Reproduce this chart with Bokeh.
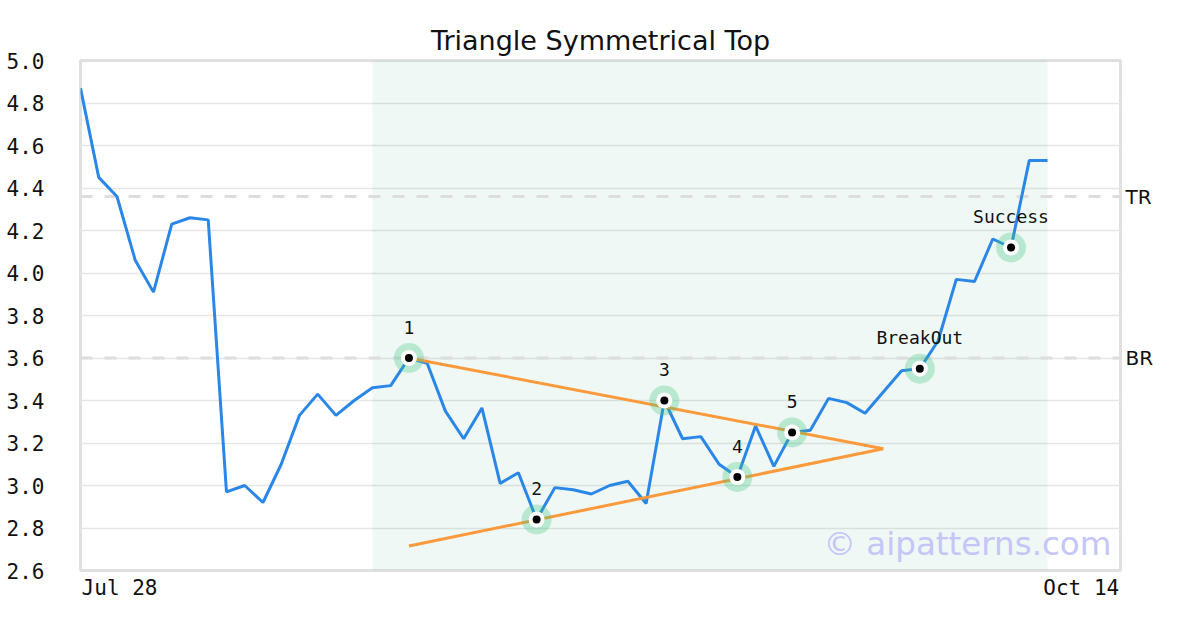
from bokeh.plotting import figure
from bokeh.models import (Range1d, FixedTicker, LinearAxis, Span, BoxAnnotation,
                          CustomJSTickFormatter, ColumnDataSource, Label)
from bokeh.core.properties import value
from bokeh.embed import file_html
from bokeh.resources import INLINE

# ---- data ----
prices = [4.87, 4.45, 4.36, 4.06, 3.91, 4.23, 4.26, 4.25, 2.97, 3.00,
          2.92, 3.10, 3.33, 3.43, 3.33, 3.40, 3.46, 3.47, 3.60, 3.575,
          3.35, 3.22, 3.365, 3.01, 3.06, 2.84, 2.99, 2.98, 2.96, 3.00,
          3.02, 2.915, 3.40, 3.22, 3.23, 3.10, 3.04, 3.28, 3.09, 3.25,
          3.26, 3.41, 3.39, 3.34, 3.44, 3.54, 3.55, 3.68, 3.97, 3.96,
          4.16, 4.12, 4.53, 4.53]
x_idx = list(range(len(prices)))
x_tick_labels = ["Jul 28", "Oct 14"]
x_tick_pos = [2.14, 54.85]
y_ticks = [2.6, 2.8, 3.0, 3.2, 3.4, 3.6, 3.8, 4.0, 4.2, 4.4, 4.6, 4.8, 5.0]

pattern_idx = [18, 25, 32, 36, 39, 46, 51]
pattern_labels = ["1", "2", "3", "4", "5", "BreakOut", "Success"]
pattern_vals = [prices[i] for i in pattern_idx]

upper_x = [18, 44]
upper_y = [3.60, 3.173]
lower_x = [18, 44]
lower_y = [2.715, 3.173]

tr_level = 4.36
br_level = 3.60
zone_start, zone_end = 16, 53

title = "Triangle Symmetrical Top"
watermark = "\u00a9 aipatterns.com"

MONO = "DejaVu Sans Mono"
SANS = "DejaVu Sans"

p = figure(width=1200, height=630, output_backend="svg", toolbar_location=None,
           x_range=Range1d(0, 57), y_range=Range1d(2.6, 5.0),
           min_border_left=80, min_border_right=80, min_border_top=60,
           min_border_bottom=60, title=title, x_axis_type="linear")
p.title.align = "center"
p.title.text_font = SANS
p.title.text_font_size = "27px"
p.title.text_font_style = "normal"
p.title.text_color = "#111111"

p.outline_line_color = "#e0e0e0"
p.outline_line_width = 3
p.background_fill_color = "white"
p.border_fill_color = "white"

# axes
p.yaxis.ticker = FixedTicker(ticks=y_ticks)
p.yaxis.formatter = CustomJSTickFormatter(code="return tick.toFixed(1);")
p.xaxis.ticker = FixedTicker(ticks=x_tick_pos)
p.xaxis.formatter = CustomJSTickFormatter(args=dict(labels=x_tick_labels),
                                          code="return tick < 20 ? labels[0] : labels[1];")
for ax in (p.xaxis[0], p.yaxis[0]):
    ax.axis_line_color = None
    ax.major_tick_line_color = None
    ax.minor_tick_line_color = None
    ax.major_tick_out = 0
    ax.major_tick_in = 0
    ax.major_label_text_font = MONO
    ax.major_label_text_font_size = "21px"
    ax.major_label_text_color = "#111111"
p.yaxis.major_label_standoff = 36
p.xaxis.major_label_standoff = 5

p.xgrid.visible = False
p.ygrid.ticker = FixedTicker(ticks=y_ticks)
p.ygrid.grid_line_color = "#e6e6e6"
p.ygrid.grid_line_width = 1.5

# right axis for TR / BR
raxis = LinearAxis(ticker=FixedTicker(ticks=[br_level, tr_level]),
                   major_label_overrides={br_level: "BR", tr_level: "TR"})
raxis.axis_line_color = None
raxis.major_tick_line_color = None
raxis.minor_tick_line_color = None
raxis.major_tick_out = 0
raxis.major_tick_in = 0
raxis.major_label_standoff = 5
raxis.major_label_text_font = SANS
raxis.major_label_text_font_size = "20px"
raxis.major_label_text_color = "#111111"
p.add_layout(raxis, "right")

# pattern zone
zone = BoxAnnotation(left=zone_start, right=zone_end, fill_color="#5fb991",
                     fill_alpha=0.1, line_color=None, level="underlay")
p.add_layout(zone)

for lvl in (tr_level, br_level):
    p.add_layout(Span(location=lvl, dimension="width", line_color="#dddddd",
                      line_width=3, line_dash="12 12", level="underlay"))

# price line
p.line(x_idx, prices, line_color="#2a87e8", line_width=3)

# triangle lines
p.line(upper_x, upper_y, line_color="#fa9a3c", line_width=3)
p.line(lower_x, lower_y, line_color="#fa9a3c", line_width=3)

# markers
src = ColumnDataSource(dict(x=pattern_idx, y=pattern_vals, t=pattern_labels))
p.scatter("x", "y", source=src, size=30, fill_color="#3cc47f", fill_alpha=0.3,
          line_color=None)
p.scatter("x", "y", source=src, size=16, fill_color="white", line_color=None)
p.scatter("x", "y", source=src, size=8, fill_color="black", line_color=None)
p.text("x", "y", text="t", source=src, text_font=value(MONO),
       text_font_size="18px", text_align="center", text_baseline="alphabetic",
       y_offset=-31, text_color="#111111")

# watermark
p.add_layout(Label(x=56.5, y=2.724, text=watermark, text_align="right",
                   text_baseline="alphabetic", text_font=SANS,
                   text_font_size="32.5px", text_color="#c5c5f7"))

open("out.html", "w").write(file_html(p, INLINE))
